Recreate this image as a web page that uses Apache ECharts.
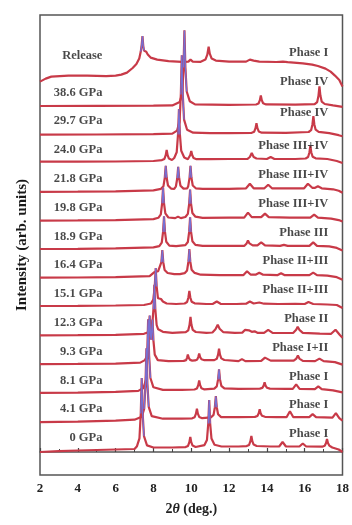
<!DOCTYPE html>
<html><head><meta charset="utf-8">
<script src="https://cdn.jsdelivr.net/npm/echarts@6/dist/echarts.min.js"></script>
<style>html,body{margin:0;padding:0;background:#fff}#c{width:352px;height:525px}</style>
</head><body><div id="c"></div>
<script>
// ---- data: [2theta (deg), intensity above the trace's own stacking level] ----
const pressures = ['0 GPa','4.1 GPa','8.1 GPa','9.3 GPa','12.3 GPa','15.1 GPa','16.4 GPa','18.9 GPa','19.8 GPa','21.8 GPa','24.0 GPa','29.7 GPa','38.6 GPa','Release'];
const phases = ['Phase I','Phase I','Phase I','Phase I+II','Phase II','Phase II+III','Phase II+III','Phase III','Phase III+IV','Phase III+IV','Phase III+IV','Phase IV','Phase IV','Phase I'];
const xTicks = [2,4,6,8,10,12,14,16,18];

const p0 = [[2,0],[3,0.8],[4,1.5],[5,2],[6,2.5],[7,3],[7.13,5.8],[7.26,13.7],[7.33,38.5],[7.38,74],[7.43,38.5],[7.5,15.8],[7.66,6.6],[8,4.5],[9,4.5],[9.7,4.9],[9.83,6.1],[9.9,9.8],[9.95,15],[10,9.8],[10.07,6.4],[10.23,5],[10.7,6.9],[10.83,12],[10.9,28.5],[10.95,52],[11,28.5],[11.07,13.5],[11.23,7.3],[11.6,5.5],[12.5,5.5],[12.93,5.9],[13.06,7.1],[13.13,10.8],[13.18,16],[13.23,10.8],[13.3,7.4],[13.46,6],[14.2,5.5],[14.65,5.5],[14.83,10],[15.01,5.5],[15.72,5.5],[15.9,8.5],[16.08,5.5],[16.93,5.3],[17.06,6.2],[17.13,9],[17.18,13],[17.23,9],[17.3,6.4],[17.46,4.5],[17.8,2.5],[18,0]];
const p4_1 = [[2,1],[4,1.5],[6,2.5],[7,3.5],[7.38,6.4],[7.51,14.2],[7.58,39.3],[7.63,75],[7.68,39.3],[7.75,16.4],[7.91,7.1],[8.5,4.5],[9.5,4.5],[10.05,4.9],[10.18,6],[10.25,9.5],[10.3,14.5],[10.35,9.5],[10.42,6.3],[10.58,5],[11.05,5.9],[11.18,8.3],[11.25,16],[11.3,27],[11.35,16],[11.42,9],[11.58,6.1],[12.5,6],[13.37,6.3],[13.5,7.2],[13.57,10],[13.62,14],[13.67,10],[13.74,7.4],[13.9,6.4],[14.5,6],[15.04,6],[15.22,12],[15.4,6],[16.24,6],[16.42,9],[16.6,6],[17.47,5.5],[17.65,10],[17.83,5],[18,2.5]];
const p8_1 = [[2,1.5],[4,1.8],[6,2.5],[7.2,3.5],[7.47,6.4],[7.6,14.2],[7.67,39.3],[7.72,75],[7.77,39.3],[7.84,16.4],[8,7.1],[8.5,4.5],[9.5,4.5],[10.17,4.9],[10.3,5.9],[10.37,9.3],[10.42,14],[10.47,9.3],[10.54,6.2],[10.7,5],[11.22,5.8],[11.35,8],[11.42,15],[11.47,25],[11.52,15],[11.59,8.6],[11.75,6],[12.5,5.5],[13.63,5.8],[13.76,6.5],[13.83,8.8],[13.88,12],[13.93,8.8],[14,6.7],[14.16,5.8],[15,5.5],[15.37,5.5],[15.55,10],[15.73,5.5],[16.54,5.3],[16.72,8],[16.9,5.2],[17.5,4],[18,2]];
const p9_3 = [[2,1.5],[4,1.7],[6,2],[7.3,3],[7.55,5.5],[7.68,10],[7.75,28],[7.8,50],[7.85,30],[7.88,26],[7.9,28],[7.95,46],[8,25],[8.07,11],[8.23,5.5],[8.8,4.5],[9.6,4.7],[9.73,5.5],[9.78,8],[9.82,11],[9.87,7.8],[9.94,5.7],[10.05,5],[10.2,5.2],[10.32,6.2],[10.37,8.5],[10.42,12],[10.47,8.5],[10.54,6.3],[10.7,5.4],[11.22,5.5],[11.35,6.8],[11.42,11],[11.47,17],[11.52,11],[11.59,7.2],[11.75,5.6],[12.5,4.5],[12.68,6.5],[12.86,4.5],[13.7,4.7],[13.9,8],[13.98,9],[14.2,5],[15.42,5],[15.56,7],[15.64,10],[15.72,7],[15.9,4.8],[16.55,4.5],[16.78,7],[17,4.5],[17.6,3.5],[18,1]];
const p12_3 = [[2,1.5],[4,1.7],[6,2],[7.5,3],[7.8,5],[7.93,10.4],[8,27.5],[8.05,52],[8.1,27.5],[8.17,11.8],[8.25,7.5],[8.32,7.5],[8.5,5],[9,4],[9.71,4.6],[9.84,6.4],[9.91,12],[9.96,20],[10.01,12],[10.08,6.9],[10.24,4.8],[10.8,4],[11.12,4.3],[11.28,7.5],[11.4,12],[11.5,8],[11.7,4.6],[12.3,4],[12.7,4.2],[12.85,7],[12.93,9],[13.05,6.5],[13.2,5],[13.35,5.5],[13.5,4],[13.85,4],[14.07,7],[14.3,4],[15,3.8],[15.4,4],[15.55,7],[15.63,10],[15.72,7],[15.9,4],[16.8,3.2],[17.4,3],[17.63,7],[17.85,2],[18,-1]];
const p15_1 = [[2,2],[4,2.2],[6,2.5],[7.5,3],[7.87,4.5],[8,8.6],[8.07,21.5],[8.12,40],[8.17,21.5],[8.24,9.7],[8.32,8],[8.4,9],[8.5,6.5],[8.7,4.5],[9.2,4],[9.65,4.5],[9.78,6],[9.85,10.5],[9.9,17],[9.95,10.5],[10.02,6.3],[10.18,4.7],[10.8,4],[11.15,4.2],[11.35,6.5],[11.55,4.2],[12.4,4],[12.9,4.3],[13.1,6.5],[13.3,4.5],[13.6,5.5],[13.85,4.3],[14.6,4],[15.5,4.2],[16,4],[16.2,6],[16.45,4],[17.2,3.5],[17.7,3],[18,0]];
const p16_4 = [[2,1.5],[4,1.7],[6,2],[7.8,3],[7.9,4],[8.05,7],[8.15,8.5],[8.25,8],[8.35,8.6],[8.42,17],[8.47,29],[8.52,17],[8.59,9.3],[8.75,6.2],[9.1,5],[9.4,5],[9.65,6],[9.78,8.8],[9.85,17.5],[9.9,30],[9.95,17.5],[10.02,9.5],[10.18,6.3],[10.5,4.5],[11.5,4],[12.5,4],[12.75,4],[12.95,8],[13.15,4.5],[13.4,4.5],[13.6,6.5],[13.8,4.5],[14.55,4],[14.75,6],[14.95,4],[16.25,4],[16.45,6.5],[16.65,4],[17.2,3.5],[17.7,2],[18,-0.5]];
const p18_9 = [[2,1.4],[4,1.6],[6,2],[8,3],[8.31,4.2],[8.44,7.7],[8.51,18.5],[8.56,34],[8.61,18.5],[8.68,8.6],[8.84,4.8],[9.2,4.2],[9.69,5.2],[9.82,8.4],[9.89,18.5],[9.94,33],[9.99,18.5],[10.06,9.2],[10.22,5.5],[10.6,4.5],[12,4.5],[12.8,4.5],[12.93,7],[13,10],[13.08,7],[13.25,5],[13.5,5],[13.7,8],[13.9,5],[14.7,4.5],[14.9,5.5],[15.1,4.5],[16.25,4.5],[16.45,8],[16.65,4.5],[17.3,4],[17.7,2.5],[18,0]];
const p19_8 = [[2,1],[4,1.2],[6,1.5],[8,2.5],[8.26,3.8],[8.39,7.2],[8.46,18.3],[8.51,34],[8.56,18.3],[8.63,8.2],[8.79,4.1],[9.15,3.5],[9.3,5],[9.45,3.5],[9.69,4.6],[9.82,7.8],[9.89,17.8],[9.94,32],[9.99,17.8],[10.06,8.6],[10.22,4.9],[10.6,3.8],[12,4],[12.8,4],[13,9],[13.2,4.5],[13.7,4.5],[13.9,8],[14.1,4.5],[15.2,4],[16.3,4],[16.5,7],[16.7,4],[17.4,3],[17.8,1.5],[18,0]];
const p21_8 = [[2,1],[4,1.2],[6,1.5],[8,2.5],[8.4,4],[8.53,6.6],[8.6,15],[8.65,27],[8.7,15],[8.77,7.3],[8.93,4.2],[9.1,4],[9.19,6.5],[9.26,14.5],[9.31,26],[9.36,14.5],[9.43,7.1],[9.59,4.2],[9.78,4.3],[9.84,6.6],[9.91,15],[9.96,27],[10.01,15],[10.08,7.3],[10.24,4.5],[10.6,4],[12,4],[12.9,4.5],[13.1,9],[13.3,4.5],[13.87,4.5],[14.07,8],[14.27,4.5],[15.97,4.5],[16.17,9],[16.4,5],[16.55,5],[16.7,6.5],[16.9,4.5],[17.5,3.5],[17.8,2],[18,0]];
const p24_0 = [[2,2.3],[4,2.4],[6,2.5],[8,3],[8.45,3.9],[8.58,5.1],[8.65,8.8],[8.7,14],[8.75,8.8],[8.82,5.4],[8.98,4],[9.1,6],[9.23,11.7],[9.3,29.5],[9.35,55],[9.4,29.5],[9.47,13.2],[9.63,6.5],[9.82,4.8],[9.9,6.5],[9.95,9],[10,13],[10.05,9],[10.12,6],[10.28,4.8],[11,4.8],[12,5],[12.98,5.2],[13.1,7],[13.2,11],[13.3,7],[13.45,5.5],[14,5],[14.2,7],[14.4,5],[15.5,5],[16.05,5.5],[16.18,7],[16.25,11.5],[16.3,18],[16.35,11.5],[16.42,7.3],[16.58,5.7],[17.2,5],[17.7,3],[18,1]];
const p29_7 = [[2,0.5],[5,0.7],[8,1],[9,1.5],[9.25,4.6],[9.38,13.3],[9.45,40.8],[9.5,80],[9.55,40.8],[9.62,15.6],[9.78,5.4],[10.1,2.5],[11,2],[12,2],[13.2,2.4],[13.33,3.5],[13.4,7],[13.45,12],[13.5,7],[13.57,3.8],[13.73,2.5],[15,2.3],[16.21,3.2],[16.34,5],[16.41,10.8],[16.46,19],[16.51,10.8],[16.58,5.5],[16.74,3.3],[17.3,2],[17.8,0],[18,-1]];
const p38_6 = [[2,0.4],[5,0.6],[8,0.8],[9,1],[9.39,4.5],[9.52,12.7],[9.59,38.8],[9.64,76],[9.69,38.8],[9.76,14.9],[9.92,5.2],[10.2,2],[12,1.5],[13.43,1.9],[13.56,2.9],[13.63,6.3],[13.68,11],[13.73,6.3],[13.8,3.2],[13.96,2],[15.5,1.8],[16.53,2.2],[16.66,4.3],[16.73,10.8],[16.78,20],[16.83,10.8],[16.9,4.8],[17.06,2.4],[17.5,1],[18,-0.5]];
const pRelease = [[2,-4],[2.3,-1],[2.6,1],[3.5,2],[4.5,2],[5.5,1.5],[6,2],[6.3,3],[6.6,5],[6.9,9.6],[7.1,13.5],[7.25,19],[7.33,26],[7.38,33],[7.42,41.6],[7.46,32],[7.5,27],[7.56,25.5],[7.62,25.8],[7.7,23],[7.85,20],[8.2,18],[8.8,16.5],[9.5,15.8],[9.85,16],[9.96,18],[10.08,16],[10.5,15.8],[10.75,18],[10.85,23],[10.92,31],[10.98,24],[11.08,19],[11.3,17],[12,16],[12.9,16],[13.1,18],[13.19,19.5],[13.3,17],[13.6,16],[14.5,15.6],[14.85,16],[14.95,17],[15.1,15.5],[15.9,14.3],[16.4,13],[16.7,11.6],[17.1,9],[17.37,6],[17.6,2],[17.83,-2.4],[18,-9]];

const patterns = [p0,p4_1,p8_1,p9_3,p12_3,p15_1,p16_4,p18_9,p19_8,p21_8,p24_0,p29_7,p38_6,pRelease];

// ---- layout / style ----
const STEP = 28.8;          // vertical stacking step between patterns
const BLUE_ABOVE = 14, BLUE_ABOVE_RELEASE = 26;   // peak tops overdrawn in blue
const LEFT_X = 5.3, RIGHT_X = 17.25;
const LEFT_DY = 14, RELEASE_DY = 22;
const RIGHT_DY = 18, RIGHT_DY_MID = 22, RIGHT_DY_HIGH = 25;   // top patterns carry their phase label higher
const RED = '#c83a48', BLUE = '#7670d4';
const FONT = 'Liberation Serif';

const n = patterns.length;
const series = [];
patterns.forEach((pts, i) => {
  const off = i * STEP;
  const thr = (i === n - 1) ? BLUE_ABOVE_RELEASE : BLUE_ABOVE;
  const d = pts.map(p => [p[0], p[1] + off]);
  const top = pts.map(p => p[1] >= thr ? [p[0], p[1] + off] : [p[0], null]);
  series.push({type:'line', data:d, showSymbol:false, symbol:'none', z:2, silent:true,
    lineStyle:{color:RED, width:2.2}, itemStyle:{color:RED}});
  series.push({type:'line', data:top, showSymbol:false, symbol:'none', z:3, silent:true,
    connectNulls:false, lineStyle:{color:BLUE, width:1.3}, itemStyle:{color:BLUE}});
});
const rightDy = i => i >= n - 2 ? RIGHT_DY_HIGH : (i === n - 3 ? RIGHT_DY_MID : RIGHT_DY);
const lblStyle = {show:true, position:'inside', align:'right', verticalAlign:'middle',
  fontFamily:FONT, fontWeight:'bold', fontSize:12.5, color:'#1a1a1a', formatter:p=>p.name};
series.push({type:'scatter', symbolSize:1, itemStyle:{color:'rgba(0,0,0,0)'}, silent:true, z:5,
  label:lblStyle,
  data:pressures.map((nm,i)=>({name:nm, value:[LEFT_X, i*STEP + (i===n-1?RELEASE_DY:LEFT_DY)]}))});
series.push({type:'scatter', symbolSize:1, itemStyle:{color:'rgba(0,0,0,0)'}, silent:true, z:5,
  label:lblStyle,
  data:phases.map((nm,i)=>({name:nm, value:[RIGHT_X, i*STEP + rightDy(i)]}))});

const chart = echarts.init(document.getElementById('c'), null, {renderer:'canvas'});
chart.setOption({
  animation:false,
  backgroundColor:'#fff',
  grid:{left:40, right:7, top:15, bottom:50, show:true, borderColor:'#555', borderWidth:1.5},
  xAxis:{type:'value', min:xTicks[0], max:xTicks[xTicks.length-1], interval:2,
    axisLine:{show:true, lineStyle:{color:'#555', width:1.5}},
    axisTick:{show:true, inside:true, length:4, lineStyle:{color:'#444', width:1.2}},
    minorTick:{show:true, splitNumber:2, length:3, lineStyle:{color:'#444', width:1}},
    splitLine:{show:false},
    axisLabel:{fontFamily:FONT, fontWeight:'bold', fontSize:13, color:'#222', margin:7},
    name:'{n|2}{t|θ}{n| (deg.)}', nameLocation:'middle', nameGap:27,
    nameTextStyle:{rich:{n:{fontFamily:FONT, fontWeight:'bold', fontSize:14, color:'#222'},
      t:{fontFamily:FONT, fontWeight:'bold', fontStyle:'italic', fontSize:14, color:'#222'}}}},
  yAxis:{type:'value', min:-23, max:437,
    axisLine:{show:false}, axisTick:{show:false}, axisLabel:{show:false}, splitLine:{show:false},
    name:'Intensity (arb. units)', nameLocation:'middle', nameGap:10, nameRotate:90,
    nameTextStyle:{fontFamily:FONT, fontWeight:'bold', fontSize:15, color:'#1a1a1a'}},
  series:series
});
</script></body></html>
